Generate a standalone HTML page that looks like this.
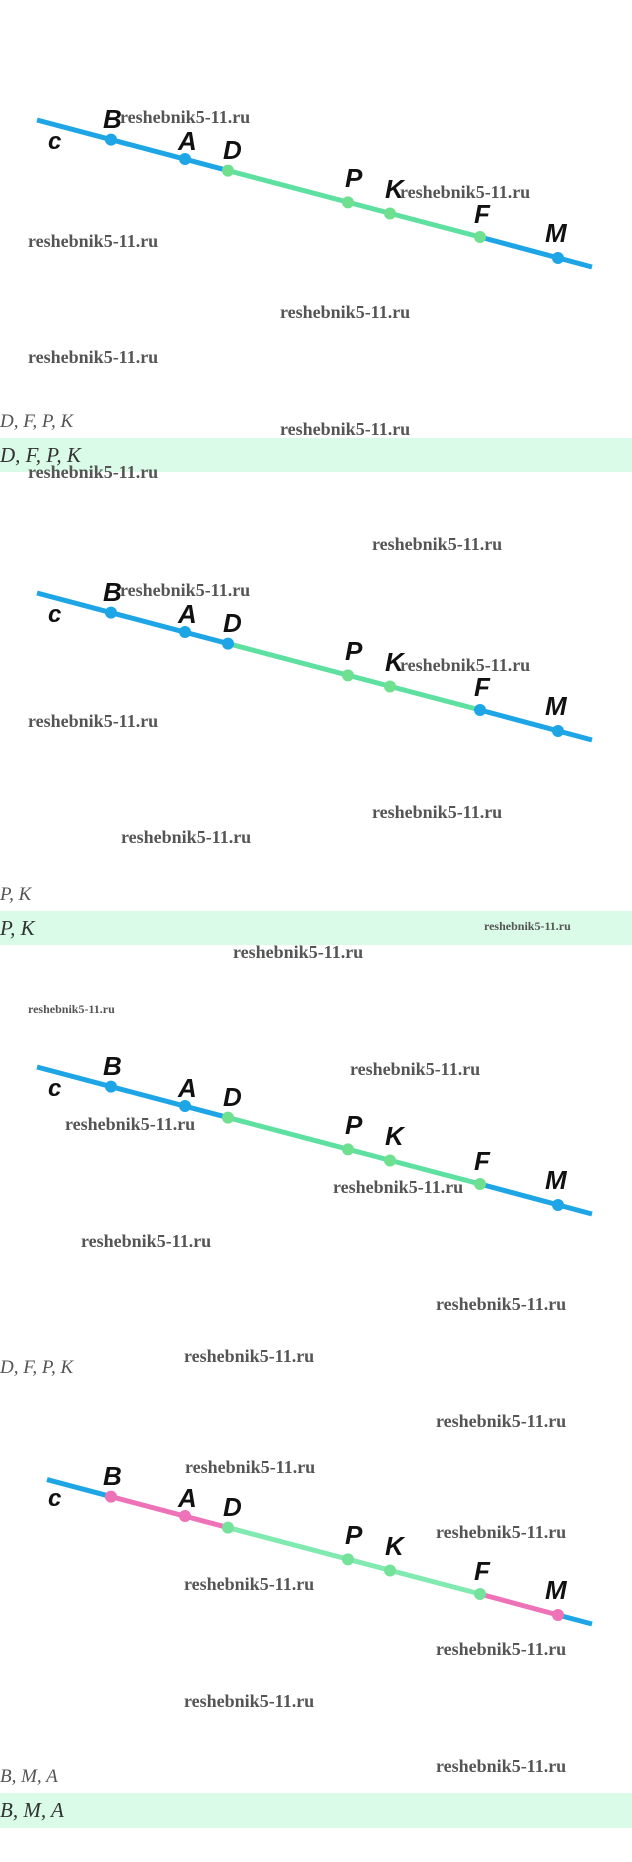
<!DOCTYPE html>
<html><head><meta charset="utf-8"><style>
html,body{margin:0;padding:0;background:#fff;}
svg{display:block}
.w{font-family:"Liberation Serif",serif;font-weight:bold;font-size:18px;fill:#555;}
.ws{font-family:"Liberation Serif",serif;font-weight:bold;font-size:12px;fill:#555;}
.l{font-family:"Liberation Sans",sans-serif;font-style:italic;font-weight:bold;font-size:26px;fill:#111;}
.m{font-family:"Liberation Serif",serif;font-style:italic;font-size:19px;fill:#555;}
.mb{font-family:"Liberation Serif",serif;font-style:italic;font-size:21px;fill:#333;}
</style></head><body>
<svg width="632" height="1862" viewBox="0 0 632 1862" xmlns="http://www.w3.org/2000/svg">
<defs>
<g id="lab">
<text class="l" x="66" y="8">B</text>
<text class="l" x="141" y="30">A</text>
<text class="l" x="186" y="39">D</text>
<text class="l" x="308" y="67">P</text>
<text class="l" x="348" y="78">K</text>
<text class="l" x="437" y="103">F</text>
<text class="l" x="508" y="122">M</text>
<text class="l" x="11" y="29" style="font-size:24px">c</text>
</g>
</defs>
<!-- bands -->
<rect x="0" y="438" width="632" height="34" fill="#dafbe7"/>
<rect x="0" y="911" width="632" height="34" fill="#dafbe7"/>
<rect x="0" y="1793" width="632" height="35" fill="#dafbe7"/>

<!-- Diagram 1 -->
<g transform="translate(37,120)">
<line x1="0" y1="0" x2="191" y2="50.6" stroke="#1ea5e6" stroke-width="5"/>
<line x1="191" y1="50.6" x2="443" y2="117" stroke="#5ee0a0" stroke-width="5"/>
<line x1="443" y1="117" x2="555" y2="147" stroke="#1ea5e6" stroke-width="5"/>
<circle cx="74" cy="19.6" r="6" fill="#1ea5e6"/><circle cx="148" cy="39" r="6" fill="#1ea5e6"/>
<circle cx="191" cy="50.6" r="6" fill="#6ee090"/><circle cx="311" cy="82.4" r="6" fill="#6ee090"/>
<circle cx="353" cy="93.5" r="6" fill="#6ee090"/><circle cx="443" cy="117" r="6" fill="#6ee090"/>
<circle cx="521" cy="138" r="6" fill="#1ea5e6"/>
<use href="#lab"/>
</g>
<text class="w" x="120" y="123">reshebnik5-11.ru</text>
<text class="w" x="400" y="198">reshebnik5-11.ru</text>
<text class="w" x="28" y="247">reshebnik5-11.ru</text>
<text class="w" x="280" y="318">reshebnik5-11.ru</text>
<text class="w" x="28" y="363">reshebnik5-11.ru</text>
<text class="m" x="0" y="427">D, F, P, K</text>
<text class="w" x="280" y="435">reshebnik5-11.ru</text>
<text class="mb" x="0" y="462">D, F, P, K</text>
<text class="w" x="28" y="478">reshebnik5-11.ru</text>

<!-- Diagram 2 -->
<text class="w" x="372" y="550">reshebnik5-11.ru</text>
<g transform="translate(37,593)">
<line x1="0" y1="0" x2="191" y2="50.6" stroke="#1ea5e6" stroke-width="5"/>
<line x1="191" y1="50.6" x2="443" y2="117" stroke="#5ee0a0" stroke-width="5"/>
<line x1="443" y1="117" x2="555" y2="147" stroke="#1ea5e6" stroke-width="5"/>
<circle cx="74" cy="19.6" r="6" fill="#1ea5e6"/><circle cx="148" cy="39" r="6" fill="#1ea5e6"/>
<circle cx="191" cy="50.6" r="6" fill="#1ea5e6"/><circle cx="311" cy="82.4" r="6" fill="#6ee090"/>
<circle cx="353" cy="93.5" r="6" fill="#6ee090"/><circle cx="443" cy="117" r="6" fill="#1ea5e6"/>
<circle cx="521" cy="138" r="6" fill="#1ea5e6"/>
<use href="#lab"/>
</g>
<text class="w" x="120" y="596">reshebnik5-11.ru</text>
<text class="w" x="400" y="671">reshebnik5-11.ru</text>
<text class="w" x="28" y="727">reshebnik5-11.ru</text>
<text class="w" x="372" y="818">reshebnik5-11.ru</text>
<text class="w" x="121" y="843">reshebnik5-11.ru</text>
<text class="m" x="0" y="900">P, K</text>
<text class="mb" x="0" y="935">P, K</text>
<text class="ws" x="484" y="930">reshebnik5-11.ru</text>
<text class="w" x="233" y="958">reshebnik5-11.ru</text>
<text class="ws" x="28" y="1013">reshebnik5-11.ru</text>

<!-- Diagram 3 -->
<g transform="translate(37,1067)">
<line x1="0" y1="0" x2="191" y2="50.6" stroke="#1ea5e6" stroke-width="5"/>
<line x1="191" y1="50.6" x2="443" y2="117" stroke="#5ee0a0" stroke-width="5"/>
<line x1="443" y1="117" x2="555" y2="147" stroke="#1ea5e6" stroke-width="5"/>
<circle cx="74" cy="19.6" r="6" fill="#1ea5e6"/><circle cx="148" cy="39" r="6" fill="#1ea5e6"/>
<circle cx="191" cy="50.6" r="6" fill="#6ee090"/><circle cx="311" cy="82.4" r="6" fill="#6ee090"/>
<circle cx="353" cy="93.5" r="6" fill="#6ee090"/><circle cx="443" cy="117" r="6" fill="#6ee090"/>
<circle cx="521" cy="138" r="6" fill="#1ea5e6"/>
<use href="#lab"/>
</g>
<text class="w" x="350" y="1075">reshebnik5-11.ru</text>
<text class="w" x="65" y="1130">reshebnik5-11.ru</text>
<text class="w" x="333" y="1193">reshebnik5-11.ru</text>
<text class="w" x="81" y="1247">reshebnik5-11.ru</text>
<text class="w" x="436" y="1310">reshebnik5-11.ru</text>
<text class="w" x="184" y="1362">reshebnik5-11.ru</text>
<text class="m" x="0" y="1373">D, F, P, K</text>
<text class="w" x="436" y="1427">reshebnik5-11.ru</text>

<!-- Diagram 4 -->
<g transform="translate(37,1477)">
<line x1="10" y1="2.6" x2="74" y2="19.6" stroke="#1ea5e6" stroke-width="5"/>
<line x1="74" y1="19.6" x2="191" y2="50.6" stroke="#ee72b8" stroke-width="5"/>
<line x1="191" y1="50.6" x2="443" y2="117" stroke="#80eab0" stroke-width="5"/>
<line x1="443" y1="117" x2="521" y2="138" stroke="#ee72b8" stroke-width="5"/>
<line x1="521" y1="138" x2="555" y2="147" stroke="#1ea5e6" stroke-width="5"/>
<circle cx="74" cy="19.6" r="6" fill="#ee72b8"/><circle cx="148" cy="39" r="6" fill="#ee72b8"/>
<circle cx="191" cy="50.6" r="6" fill="#74e29a"/><circle cx="311" cy="82.4" r="6" fill="#74e29a"/>
<circle cx="353" cy="93.5" r="6" fill="#74e29a"/><circle cx="443" cy="117" r="6" fill="#74e29a"/>
<circle cx="521" cy="138" r="6" fill="#ee72b8"/>
<use href="#lab"/>
</g>
<text class="w" x="185" y="1473">reshebnik5-11.ru</text>
<text class="w" x="436" y="1538">reshebnik5-11.ru</text>
<text class="w" x="184" y="1590">reshebnik5-11.ru</text>
<text class="w" x="436" y="1655">reshebnik5-11.ru</text>
<text class="w" x="184" y="1707">reshebnik5-11.ru</text>
<text class="w" x="436" y="1772">reshebnik5-11.ru</text>
<text class="m" x="0" y="1782">B, M, A</text>
<text class="mb" x="0" y="1817">B, M, A</text>
</svg>
</body></html>
